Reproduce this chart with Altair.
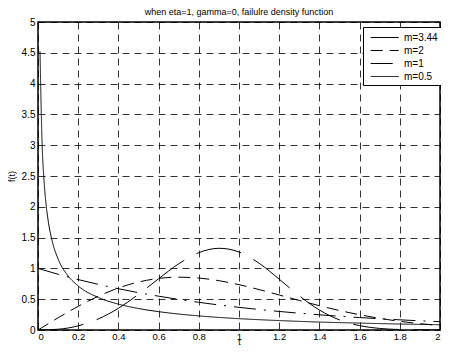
import altair as alt
import pandas as pd

series = ["m=3.44", "m=2", "m=1", "m=0.5"]

t_main = [0.0, 0.1, 0.2, 0.3, 0.4, 0.5, 0.6, 0.7, 0.8, 0.9, 1.0,
          1.1, 1.2, 1.3, 1.4, 1.5, 1.6, 1.7, 1.8, 1.9, 2.0]

t_m344 = [0.0, 0.1, 0.2, 0.3, 0.4, 0.5, 0.6, 0.7, 0.8, 0.85, 0.9, 0.95, 1.0,
          1.1, 1.2, 1.3, 1.4, 1.5, 1.6, 1.7, 1.8, 1.9, 2.0]
f_m344 = [0.0, 0.0125, 0.0675, 0.1794, 0.3524, 0.5782, 0.8324, 1.0747, 1.2547, 1.3063,
          1.3264, 1.3126, 1.2655, 1.0834, 0.8254, 0.5542, 0.3246, 0.1637, 0.0703,
          0.0254, 0.0076, 0.0018, 0.0003]

f_m2 = [0.0, 0.1980, 0.3843, 0.5484, 0.6817, 0.7788, 0.8372, 0.8577, 0.8437, 0.8007,
        0.7358, 0.6560, 0.5686, 0.4798, 0.3944, 0.3162, 0.2474, 0.1890, 0.1410,
        0.1028, 0.0733]

f_m1 = [1.0, 0.9048, 0.8187, 0.7408, 0.6703, 0.6065, 0.5488, 0.4966, 0.4493, 0.4066,
        0.3679, 0.3329, 0.3012, 0.2725, 0.2466, 0.2231, 0.2019, 0.1827, 0.1653,
        0.1496, 0.1353]

t_m05 = [0.01, 0.02, 0.03, 0.04, 0.05, 0.07, 0.1, 0.15, 0.2, 0.3, 0.4, 0.5, 0.6,
         0.7, 0.8, 0.9, 1.0, 1.2, 1.4, 1.6, 1.8, 2.0]
f_m05 = [4.524, 3.069, 2.428, 2.047, 1.788, 1.451, 1.153, 0.877, 0.715, 0.528, 0.420,
         0.349, 0.298, 0.259, 0.229, 0.204, 0.184, 0.153, 0.129, 0.112, 0.097, 0.086]

x_ticks = [0, 0.2, 0.4, 0.6, 0.8, 1.0, 1.2, 1.4, 1.6, 1.8, 2.0]
y_ticks = [0, 0.5, 1.0, 1.5, 2.0, 2.5, 3.0, 3.5, 4.0, 4.5, 5.0]

rows = []
for tt, ff in zip(t_m344, f_m344):
    rows.append({"t": tt, "f": ff, "series": "m=3.44"})
for tt, ff in zip(t_main, f_m2):
    rows.append({"t": tt, "f": ff, "series": "m=2"})
for tt, ff in zip(t_main, f_m1):
    rows.append({"t": tt, "f": ff, "series": "m=1"})
for tt, ff in zip(t_m05, f_m05):
    rows.append({"t": tt, "f": ff, "series": "m=0.5"})
df = pd.DataFrame(rows)

FONT = "Liberation Sans"

chart = alt.Chart(df).mark_line(
    color="black", strokeWidth=1, interpolate="monotone", clip=True
).encode(
    x=alt.X("t:Q", title="t", scale=alt.Scale(domain=[0, 2], nice=False),
            axis=alt.Axis(values=x_ticks, grid=True, format="~g",
                          labelFontSize=9.5, labelPadding=1,
                          titleY=14, titleBaseline="alphabetic", titleFontSize=8.5)),
    y=alt.Y("f:Q", title="f(t)", scale=alt.Scale(domain=[0, 5], nice=False),
            axis=alt.Axis(values=y_ticks, grid=True, format="~g",
                          labelFontSize=10, labelPadding=3, titlePadding=5)),
    strokeDash=alt.StrokeDash(
        "series:N",
        scale=alt.Scale(domain=series, range=[[46, 14], [12, 7], [22, 8, 2, 8], [1, 0]]),
        legend=alt.Legend(
            title=None, orient="none", legendX=325, legendY=5,
            symbolType="M-0.4,0H3.6", symbolSize=196, symbolStrokeWidth=1,
            symbolStrokeColor="black", symbolFillColor="transparent",
            labelFont=FONT, labelFontSize=10,
            labelColor="black", strokeColor="black", fillColor="white",
            padding=3, rowPadding=0, labelOffset=23,
        ),
    ),
).properties(
    width=402, height=308,
    title=alt.TitleParams(
        "when eta=1, gamma=0, failulre density function",
        font=FONT, fontSize=9, fontWeight="normal", color="black",
        offset=0, frame="group",
    ),
    autosize=alt.AutoSizeParams(type="none"),
    padding={"left": 30, "top": 14, "right": 1, "bottom": 16},
).configure_view(
    stroke="black", strokeWidth=1.5
).configure_axis(
    domain=False, ticks=False,
    gridColor="black", gridOpacity=1, gridWidth=0.8, gridDash=[7, 5],
    labelFont=FONT, labelColor="black",
    titleFont=FONT, titleFontSize=9, titleFontWeight="normal", titleColor="black",
)

chart.save("out.html", embed_options={"renderer": "svg", "actions": False})
